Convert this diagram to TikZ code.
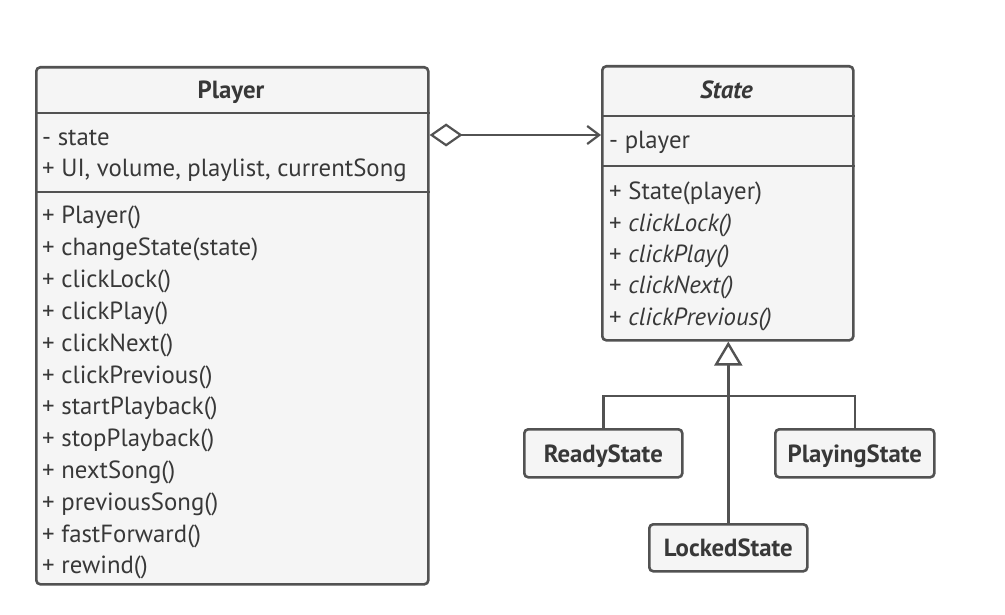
\documentclass[tikz,border=0pt]{standalone}
\usepackage{fontspec}
\setmainfont{PT Sans}
\usetikzlibrary{arrows.meta}
\definecolor{umlline}{HTML}{525252}
\definecolor{umlfill}{HTML}{F5F5F5}
\definecolor{umltext}{HTML}{383838}
\begin{document}
\begin{tikzpicture}[x=1pt,y=-1pt,
  classbox/.style={draw=umlline,fill=umlfill,line width=2.6pt,rounded corners=4pt,inner sep=0pt,anchor=north west},
  divider/.style={draw=umlline,line width=2.6pt},
  member/.style={anchor=base west,inner sep=0pt,text=umltext,font=\fontsize{24.8}{29}\selectfont},
  title/.style={anchor=base,inner sep=0pt,text=umltext,font=\fontsize{24.8}{29}\selectfont\bfseries},
  conn/.style={draw=umlline,line width=2.6pt},
]
\useasboundingbox (0,0) rectangle (1005,615);
% Player
\node[classbox,minimum width=392pt,minimum height=517pt] (player) at (35,66) {};
\draw[divider] (player.north west |- 0,113) -- (player.north east |- 0,113);
\draw[divider] (player.north west |- 0,192) -- (player.north east |- 0,192);
\node[title] (ptitle) at (231,99) {Player};
\node[member] (pa1) at (42,146) {- state};
\node[member] (pa2) at (42,177) {+ UI, volume, playlist, currentSong};
\foreach \t [count=\i from 0] in {+ Player(),+ changeState(state),+ clickLock(),+ clickPlay(),+ clickNext(),+ clickPrevious(),+ startPlayback(),+ stopPlayback(),+ nextSong(),+ previousSong(),+ fastForward(),+ rewind()}
  \node[member] (pm\i) at (42,{224+31.8*\i}) {\t};
% State
\node[classbox,minimum width=251pt,minimum height=274pt] (state) at (601,65) {};
\draw[divider] (state.north west |- 0,116) -- (state.north east |- 0,116);
\draw[divider] (state.north west |- 0,166) -- (state.north east |- 0,166);
\node[title] (stitle) at (726.5,99) {\itshape State};
\node[member] (sa1) at (609,149) {- player};
\node[member] (sm0) at (609,200) {+ State(player)};
\foreach \t [count=\i from 1] in {clickLock(),clickPlay(),clickNext(),clickPrevious()}
  \node[member] (sm\i) at (609,{200+31.25*\i}) {+ \textit{\t}};
% Subclasses
\node[classbox,minimum width=158pt,minimum height=48pt] (ready) at (523,428) {};
\node[title] at ([yshift=-9pt]ready.center) {ReadyState};
\node[classbox,minimum width=159pt,minimum height=48pt] (playing) at (774,428) {};
\node[title] at ([yshift=-9pt]playing.center) {PlayingState};
\node[classbox,minimum width=158pt,minimum height=47pt] (locked) at (648,523) {};
\node[title] at ([yshift=-9pt]locked.center) {LockedState};
% Connectors
\coordinate (aggA) at ([yshift=-69pt]player.north east);
\coordinate (aggB) at ([yshift=-70pt]state.north west);
\draw[conn,{Diamond[open,length=33pt,width=23pt,line width=2.2pt]}-{Straight Barb[length=12pt,width=18pt,line width=2.2pt]}] (aggA) -- (aggB);
\coordinate (branch) at (727,396);
\draw[conn] (ready.north) |- (branch) -| (playing.north);
\draw[conn,-{Triangle[open,length=24pt,width=28pt,line width=2.4pt]}] (locked.north) -- (locked.north |- state.south);
\end{tikzpicture}
\end{document}
